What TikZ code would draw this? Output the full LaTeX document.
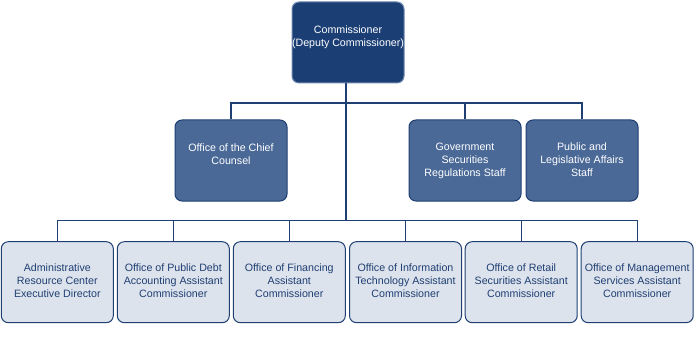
\documentclass[tikz,border=0pt]{standalone}
\usepackage{fontspec}
\setmainfont{Liberation Sans}
\definecolor{navy}{HTML}{1B3F75}
\definecolor{midblue}{HTML}{4A6997}
\definecolor{lightfill}{HTML}{DDE3EC}
\definecolor{lineblue}{HTML}{1F3F73}
\definecolor{topborder}{HTML}{6F88AE}
\newcommand\boxtext[2]{\begin{minipage}[c][81pt][t]{112pt}\centering\fontsize{10.67}{13}\selectfont\vspace*{#1}\strut #2\end{minipage}}
\tikzset{
  orgbox/.style={rounded corners=7pt, inner sep=0pt, minimum width=112pt, minimum height=81pt, line width=1pt},
  topbox/.style={orgbox, fill=navy, draw=topborder, text=white},
  midbox/.style={orgbox, fill=midblue, draw=lineblue, text=white},
  lowbox/.style={orgbox, fill=lightfill, draw=lineblue, text=lineblue},
  conn/.style={draw=lineblue, line width=1.2pt}
}
\begin{document}
\begin{tikzpicture}[x=1pt,y=1pt]
\useasboundingbox (0,0) rectangle (697,-337);
\node[topbox] (top) at (348,-42.5) {\boxtext{22pt}{Commissioner\\(Deputy Commissioner)}};
\node[midbox] (chief) at (231,-160.5) {\boxtext{22pt}{Office of the Chief\\Counsel}};
\node[midbox] (gov) at (465,-160.5) {\boxtext{21.5pt}{Government\\Securities\\Regulations Staff}};
\node[midbox] (pub) at (582,-160.5) {\boxtext{21.5pt}{Public and\\Legislative Affairs\\Staff}};
\node[lowbox] (arc) at (57.3,-282.2) {\boxtext{21pt}{Administrative\\Resource Center\\Executive Director}};
\node[lowbox] (opd) at (173.3,-282.2) {\boxtext{21pt}{Office of Public Debt\\Accounting Assistant\\Commissioner}};
\node[lowbox] (fin) at (289.3,-282.2) {\boxtext{21pt}{Office of Financing\\Assistant\\Commissioner}};
\node[lowbox] (oit) at (405.5,-282.2) {\boxtext{21pt}{Office of Information\\Technology Assistant\\Commissioner}};
\node[lowbox] (ret) at (521.2,-282.2) {\boxtext{21pt}{Office of Retail\\Securities Assistant\\Commissioner}};
\node[lowbox] (oms) at (637.2,-282.2) {\boxtext{21pt}{Office of Management\\Services Assistant\\Commissioner}};
\coordinate (bus1) at (346,-103);
\coordinate (bus2) at (346,-220.7);
\draw[conn] (top.south -| bus1) -- (bus2);
\draw[conn] (chief.north) |- (bus1);
\draw[conn] (pub.north) |- (bus1);
\draw[conn] (gov.north) -- (gov.north |- bus1);
\draw[conn] (arc.north) |- (bus2);
\draw[conn] (oms.north) |- (bus2);
\draw[conn] (opd.north) -- (opd.north |- bus2);
\draw[conn] (fin.north) -- (fin.north |- bus2);
\draw[conn] (oit.north) -- (oit.north |- bus2);
\draw[conn] (ret.north) -- (ret.north |- bus2);
\end{tikzpicture}
\end{document}
